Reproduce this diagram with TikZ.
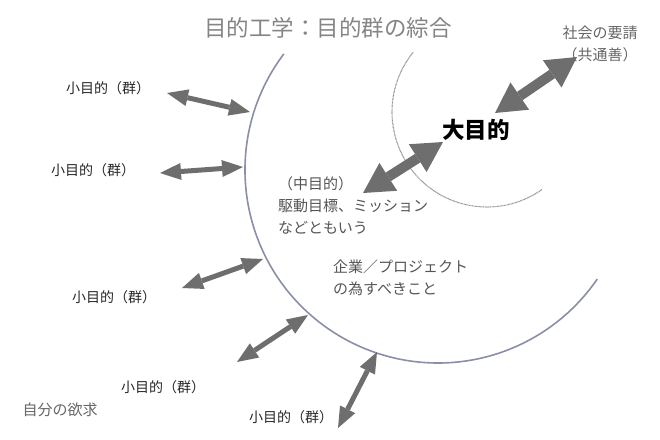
\documentclass[tikz,border=0pt]{standalone}
\usepackage{fontspec}
\setmainfont{Noto Sans CJK JP}
\usetikzlibrary{arrows.meta}

\definecolor{arrowgray}{HTML}{6E6E6E}
\definecolor{arcblue}{HTML}{8A8FA6}
\definecolor{titlegray}{HTML}{858585}
\definecolor{textgray}{HTML}{555555}

\tikzset{
  titletext/.style={font=\fontsize{22.5}{26}\selectfont, text=titlegray, inner sep=0pt},
  graytext/.style={font=\fontsize{15}{22}\selectfont, text=textgray, inner sep=0pt},
  smalltext/.style={font=\fontsize{14}{16}\selectfont, text=black!85, inner sep=0pt},
  dbl/.style={draw=arrowgray, line width=5pt,
    {Triangle[length=21pt,width=17pt,line width=0pt]}-{Triangle[length=21pt,width=17pt,line width=0pt]}},
  bigdbl/.style={draw=arrowgray, line width=10pt,
    {Triangle[length=30pt,width=33pt,line width=0pt]}-{Triangle[length=30pt,width=33pt,line width=0pt]}}
}

\begin{document}
\begin{tikzpicture}[x=1pt,y=-1pt]
    %\draw[help lines] (0,0) grid (660,439);
    \useasboundingbox (0,0) rectangle (660,439);

    \coordinate (outer) at (438,170);
    \coordinate (inner) at (487,112);
    \draw [arcblue, line width=1.6pt] (outer) ++(143:193pt) arc[start angle=143, end angle=325.6, radius=193pt];
    \draw [gray!90, line width=1.1pt, dash pattern=on 0.8pt off 0.6pt] (inner) ++(141:95pt) arc[start angle=141, end angle=305.5, radius=95pt];

    \node [titletext] (title) at (328,28) {目的工学：目的群の綜合};
    \node [graytext, align=center, text=black!60] (social) at (600,44) {社会の要請\\（共通善）};
    \node [font=\fontsize{22.5}{26}\selectfont\bfseries, inner sep=0pt] (big) at (476,130) {大目的};
    \node [graytext, align=left, anchor=west] (mid) at (278,205) {（中目的）\\駆動目標、ミッション\\などともいう};
    \node [graytext, align=left, anchor=west] (task) at (333,278) {企業／プロジェクト\\の為すべきこと};
    \node [graytext, text=black!60] (self) at (60,410) {自分の欲求};

    \foreach \n/\p in {1/{(108,88)},2/{(93,170)},3/{(114,297)},4/{(163,387)},5/{(291,417)}}
    	\node [smalltext] (small\n) at \p {小目的（群）};

    % arrow ends
    \coordinate (s1) at (577,57);   \coordinate (b1) at (495,113);
    \coordinate (b2) at (443,142);  \coordinate (m1) at (363,193);
    \coordinate (a1) at (167,93);   \coordinate (e1) at (250,112);
    \coordinate (a2) at (160,173);  \coordinate (e2) at (243,167);
    \coordinate (a3) at (182,288);  \coordinate (e3) at (263,259);
    \coordinate (a4) at (237,362);  \coordinate (e4) at (308,315);
    \coordinate (a5) at (338,428);  \coordinate (e5) at (377,352);

    \draw [bigdbl] (b1) -- (s1);
    \draw [bigdbl] (m1) -- (b2);
    \foreach \k in {1,...,5}
    	\draw [dbl] (a\k) -- (e\k);
\end{tikzpicture}
\end{document}
